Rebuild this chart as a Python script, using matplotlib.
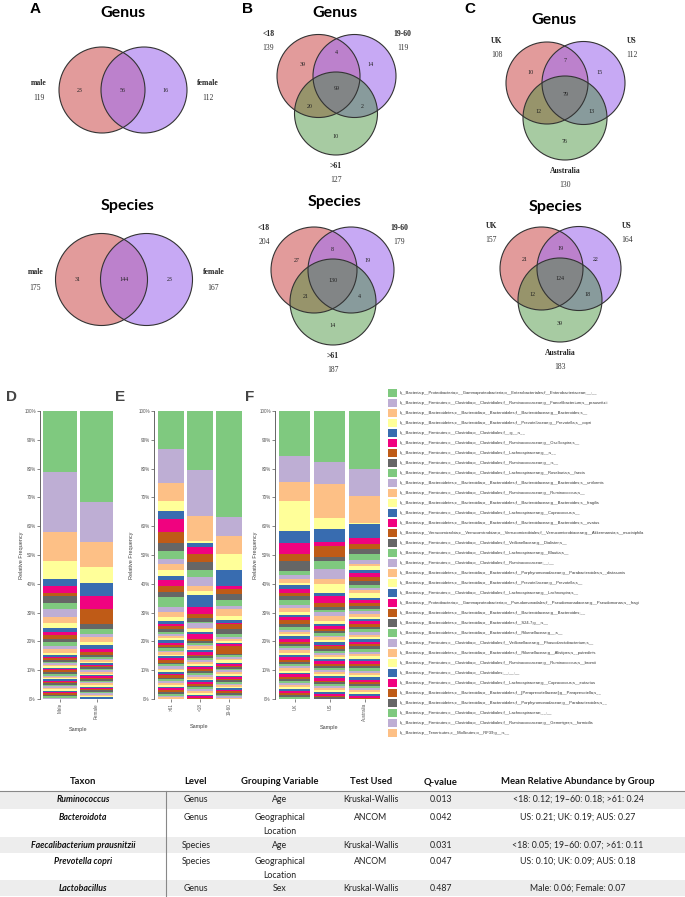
import matplotlib
matplotlib.use('Agg')
import matplotlib.pyplot as plt
from matplotlib.patches import Circle, Rectangle
import numpy as np

W, H = 685, 897

# ---------------- Venn data ----------------
sex_names = ['male', 'female']
genus_sex_totals = [119, 112]
genus_sex_counts = [23, 56, 16]          # male only, shared, female only
species_sex_totals = [175, 167]
species_sex_counts = [31, 144, 23]

age_names = ['<18', '19-60', '>61']
# order: only1, only2, only3, 1&2, 1&3, 2&3, all
genus_age_totals = [139, 119, 127]
genus_age_counts = [39, 14, 10, 4, 20, 2, 99]
species_age_totals = [204, 179, 187]
species_age_counts = [27, 19, 14, 8, 21, 4, 130]

country_names = ['UK', 'US', 'Australia']
genus_country_totals = [108, 112, 130]
genus_country_counts = [10, 15, 76, 7, 12, 13, 79]
species_country_totals = [157, 164, 183]
species_country_counts = [21, 22, 39, 19, 12, 18, 124]

# ---------------- stacked bar data (% from top segment down) ----------------
sex_samples = ['Male', 'Female']
sex_stacks = [
    [21.1, 21.0, 9.8, 6.3, 2.5, 2.5, 0.8, 2.6, 2.0, 2.9, 2.2, 1.5, 1.5, 0.9, 1.6, 0.9, 1.3, 1.3, 1.1, 0.9,
     0.6, 0.5, 0.7, 0.4, 0.5, 0.8, 0.3, 0.6, 0.5, 0.4, 0.7, 0.5, 0.6, 0.3, 0.5, 0.4, 0.6, 0.5, 0.4, 0.7,
     0.3, 0.5, 0.4, 0.6, 0.5, 0.4, 0.5, 0.6, 0.4, 0.5],
    [31.5, 13.8, 8.7, 5.4, 4.8, 4.4, 5.2, 1.7, 1.8, 1.1, 1.4, 1.2, 1.3, 1.1, 0.9, 0.7, 0.7,
     0.5, 0.6, 0.4, 0.7, 0.5, 0.3, 0.6, 0.5, 0.4, 0.8, 0.5, 0.4, 0.6, 0.3, 0.5, 0.6, 0.4, 0.5, 0.7, 0.4,
     0.5, 0.3, 0.6, 0.4, 0.5, 0.5, 0.4, 0.6],
]

age_samples = ['>61', '<18', '19-60']
age_stacks = [
    [13.3, 11.7, 6.2, 3.5, 2.6, 4.4, 3.9, 2.8, 2.9, 1.7, 1.9, 2.2, 1.2, 2.1, 2.3, 1.4, 3.5, 1.9, 1.6, 1.6,
     0.9, 0.8, 0.9, 0.9,
     0.7, 0.9, 0.6, 0.8, 1.0, 0.5, 0.7, 0.6, 0.9, 0.5, 0.8, 0.6, 0.7, 0.5, 0.9, 0.6, 0.7, 0.8, 0.5, 0.6,
     0.7, 0.5, 0.8, 0.6, 0.7, 0.5, 0.6, 0.8, 0.5, 0.7, 0.6, 0.5, 0.7, 0.6, 0.6],
    [20.1, 15.8, 8.7, 0.6, 1.5, 2.2, 2.7, 2.9, 2.3, 3.1, 1.8, 1.5, 3.9, 2.3, 1.6, 1.2, 0.6, 1.4, 0.6, 0.8,
     0.9, 1.6, 0.8, 0.6, 0.6,
     0.6, 0.8, 0.5, 0.7, 0.9, 0.5, 0.6, 0.7, 0.5, 0.8, 0.6, 0.5, 0.7, 0.6, 0.8, 0.5, 0.6, 0.7, 0.5, 0.6,
     0.8, 0.5, 0.6, 0.7, 0.5, 0.6, 0.7, 0.6, 0.5, 0.4],
    [36.7, 6.4, 6.4, 5.4, 5.5, 1.2, 1.7, 2.0, 2.1, 1.2, 2.3, 1.5, 0.8, 0.6, 1.7, 1.7, 0.9, 0.7, 0.6, 0.8,
     0.5, 0.5, 2.8,
     0.5, 0.7, 0.6, 0.4, 0.8, 0.5, 0.6, 0.5, 0.7, 0.4, 0.6, 0.5, 0.8, 0.5, 0.6, 0.4, 0.7, 0.5, 0.6, 0.5,
     0.4, 0.6, 0.5, 0.7, 0.5, 0.6, 0.5, 0.4],
]

country_samples = ['UK', 'US', 'Australia']
country_stacks = [
    [15.6, 8.9, 6.5, 10.2, 4.1, 4.0, 2.5, 3.2, 1.4, 1.5, 1.2, 0.9, 1.4, 1.2, 1.2, 1.4, 1.5, 1.2, 1.2, 1.2,
     0.8, 0.9, 1.5,
     0.8, 1.0, 0.7, 0.9, 0.6, 1.1, 0.8, 0.7, 0.9, 0.6, 0.8, 1.0, 0.7, 0.6, 0.9, 0.8, 0.7, 0.6, 0.8, 0.9,
     0.7, 0.6, 0.8, 0.7, 0.9, 0.6, 0.7, 0.8, 0.6, 0.7, 0.8, 0.6, 0.7, 0.6],
    [17.8, 7.5, 11.8, 3.8, 4.4, 1.5, 3.6, 1.5, 2.8, 3.3, 1.8, 3.3, 1.1, 2.1, 1.4, 1.2, 0.7, 1.4, 1.8, 0.8,
     0.9, 0.8, 0.9,
     0.7, 0.9, 0.6, 0.8, 0.7, 1.0, 0.6, 0.8, 0.7, 0.9, 0.6, 0.7, 0.8, 0.6, 0.9, 0.7, 0.6, 0.8, 0.7, 0.6,
     0.9, 0.7, 0.8, 0.6, 0.7, 0.6, 0.8, 0.7, 0.6, 0.7, 0.6, 0.5, 0.6],
    [19.8, 9.5, 9.0, 0.3, 5.1, 1.8, 2.0, 1.5, 2.0, 1.4, 0.9, 1.2, 1.2, 1.2, 1.4, 1.5, 0.9, 0.8, 0.9, 1.7,
     0.9,
     1.0, 0.8, 1.2, 0.7, 0.9, 1.1, 0.8, 0.6, 1.0, 0.9, 0.7, 1.2, 0.8, 0.9, 0.7, 1.0, 0.8, 0.6, 0.9, 1.1,
     0.7, 0.8, 0.9, 0.7, 1.0, 0.8, 0.6, 0.9, 0.7, 0.8, 0.7, 0.9, 0.6, 0.8, 0.7, 0.6, 0.8, 0.7, 0.6, 0.7,
     0.6, 0.5],
]

FIRM = 'k__Bacteria;p__Firmicutes;c__Clostridia;o__Clostridiales;'
BACT = 'k__Bacteria;p__Bacteroidetes;c__Bacteroidia;o__Bacteroidales;'
legend_taxa = [
    'k__Bacteria;p__Proteobacteria;c__Gammaproteobacteria;o__Enterobacteriales;f__Enterobacteriaceae;__;__',
    FIRM + 'f__Ruminococcaceae;g__Faecalibacterium;s__prausnitzii',
    BACT + 'f__Bacteroidaceae;g__Bacteroides;s__',
    BACT + 'f__Prevotellaceae;g__Prevotella;s__copri',
    FIRM + 'f__;g__;s__',
    FIRM + 'f__Ruminococcaceae;g__Oscillospira;s__',
    FIRM + 'f__Lachnospiraceae;g__;s__',
    FIRM + 'f__Ruminococcaceae;g__;s__',
    FIRM + 'f__Lachnospiraceae;g__Roseburia;s__faecis',
    BACT + 'f__Bacteroidaceae;g__Bacteroides;s__uniformis',
    FIRM + 'f__Ruminococcaceae;g__Ruminococcus;s__',
    BACT + 'f__Bacteroidaceae;g__Bacteroides;s__fragilis',
    FIRM + 'f__Lachnospiraceae;g__Coprococcus;s__',
    BACT + 'f__Bacteroidaceae;g__Bacteroides;s__ovatus',
    'k__Bacteria;p__Verrucomicrobia;c__Verrucomicrobiae;o__Verrucomicrobiales;f__Verrucomicrobiaceae;g__Akkermansia;s__muciniphila',
    FIRM + 'f__Veillonellaceae;g__Dialister;s__',
    FIRM + 'f__Lachnospiraceae;g__Blautia;s__',
    FIRM + 'f__Ruminococcaceae;__;__',
    BACT + 'f__Porphyromonadaceae;g__Parabacteroides;s__distasonis',
    BACT + 'f__Prevotellaceae;g__Prevotella;s__',
    FIRM + 'f__Lachnospiraceae;g__Lachnospira;s__',
    'k__Bacteria;p__Proteobacteria;c__Gammaproteobacteria;o__Pseudomonadales;f__Pseudomonadaceae;g__Pseudomonas;s__fragi',
    BACT + 'f__Bacteroidaceae;g__Bacteroides;__',
    BACT + 'f__S24-7;g__;s__',
    BACT + 'f__Rikenellaceae;g__;s__',
    FIRM + 'f__Veillonellaceae;g__Phascolarctobacterium;s__',
    BACT + 'f__Rikenellaceae;g__Alistipes;s__putredinis',
    FIRM + 'f__Ruminococcaceae;g__Ruminococcus;s__bromii',
    FIRM + '__;__;__',
    FIRM + 'f__Lachnospiraceae;g__Coprococcus;s__eutactus',
    BACT + 'f__[Paraprevotellaceae];g__Paraprevotella;s__',
    BACT + 'f__Porphyromonadaceae;g__Parabacteroides;s__',
    FIRM + 'f__Lachnospiraceae;__;__',
    FIRM + 'f__Ruminococcaceae;g__Gemmiger;s__formicilis',
    'k__Bacteria;p__Tenericutes;c__Mollicutes;o__RF39;g__;s__',
]

# ---------------- table data ----------------
table_cols = ['Taxon', 'Level', 'Grouping Variable', 'Test Used', 'Q-value',
              'Mean Relative Abundance by Group']
taxa = ['Ruminococcus', 'Bacteroidota', 'Faecalibacterium prausnitzii', 'Prevotella copri', 'Lactobacillus']
levels = ['Genus', 'Genus', 'Species', 'Species', 'Genus']
grouping = ['Age', 'Geographical\nLocation', 'Age', 'Geographical\nLocation', 'Sex']
tests = ['Kruskal-Wallis', 'ANCOM', 'Kruskal-Wallis', 'ANCOM', 'Kruskal-Wallis']
qvalues = [0.013, 0.042, 0.031, 0.047, 0.487]
abundance = ['<18: 0.12; 19\u201360: 0.18; >61: 0.24', 'US: 0.21; UK: 0.19; AUS: 0.27',
             '<18: 0.05; 19\u201360: 0.07; >61: 0.11', 'US: 0.10; UK: 0.09; AUS: 0.18',
             'Male: 0.06; Female: 0.07']

ACCENT = ['#7fc97f', '#beaed4', '#fdc086', '#ffff99', '#386cb0', '#f0027f', '#bf5b17', '#666666']
VENN_FILL = [('#cf5858', 0.6), ('#a371ee', 0.6), ('#3c8c32', 0.45)]

fig = plt.figure(figsize=(W / 100, H / 100), dpi=100)
canvas = fig.add_axes([0, 0, 1, 1])
canvas.set_xlim(0, W)
canvas.set_ylim(H, 0)
canvas.axis('off')

name_style = dict(fontsize=5.5, family='Liberation Serif', fontweight='bold', ha='center', va='center', color='#222')
tot_style = dict(fontsize=5.5, family='Liberation Serif', ha='center', va='center', color='#333')
num_style = dict(fontsize=4.3, family='Liberation Serif', ha='center', va='center', color='#222')
title_style = dict(fontsize=11.5, family='Lato', fontweight='bold', ha='center', va='center', color='black')


def draw_circles(circles):
    for (cx, cy, r), (col, a) in zip(circles, VENN_FILL):
        canvas.add_patch(Circle((cx, cy), r, facecolor=col, alpha=a, lw=0))
    for cx, cy, r in circles:
        canvas.add_patch(Circle((cx, cy), r, fill=False, ec='#333333', lw=0.8))


def venn2(circles, names, totals, counts):
    draw_circles(circles)
    (x1, y, r), (x2, _, r2) = circles
    d = x2 - x1
    for xx, n in zip([x1 - 0.52 * d, (x1 + x2) / 2, x2 + 0.52 * d], counts):
        canvas.text(xx, y, str(n), **num_style)
    for xx, name, tot in zip([x1 - r - 20, x2 + r2 + 21], names, totals):
        canvas.text(xx, y - 7, name, **name_style)
        canvas.text(xx, y + 8, str(tot), **tot_style)


def venn3(circles, names, totals, counts):
    draw_circles(circles)
    c = np.array([[cx, cy] for cx, cy, _ in circles])
    g = c.mean(axis=0)
    r3 = circles[2][2]
    pos = [c[0] + 0.9 * (c[0] - g), c[1] + 0.9 * (c[1] - g), c[2] + np.array([0, 0.55 * r3])]
    for i, j in [(0, 1), (0, 2), (1, 2)]:
        m = (c[i] + c[j]) / 2
        pos.append(m + 1.9 * (m - g))
    pos.append(g)
    for p, n in zip(pos, counts):
        canvas.text(p[0], p[1], str(n), **num_style)
    label_pos = [(c[0][0] - 50, c[0][1] - 42), (c[1][0] + 48, c[1][1] - 42), (c[2][0], c[2][1] + r3 + 11)]
    for (lx, ly), name, tot in zip(label_pos, names, totals):
        canvas.text(lx, ly, name, **name_style)
        canvas.text(lx, ly + 14, str(tot), **tot_style)


# panel letters and titles
for lab, x, y in [('A', 35, 9), ('B', 248, 9), ('C', 470, 9)]:
    canvas.text(x, y, lab, fontsize=11, family='Liberation Sans', fontweight='bold', ha='center', va='center')
for lab, x, y in [('D', 12, 397), ('E', 120, 397), ('F', 250, 397)]:
    canvas.text(x, y, lab, fontsize=11, family='Liberation Sans', fontweight='bold', ha='center', va='center',
                color='#444')
for txt, x, y in [('Genus', 123, 13), ('Genus', 335, 13), ('Genus', 554, 20),
                  ('Species', 127, 206), ('Species', 334, 202), ('Species', 555, 207)]:
    canvas.text(x, y, txt, **title_style)

venn2([(102, 90, 43), (144, 90, 43)], sex_names, genus_sex_totals, genus_sex_counts)
venn2([(101.5, 279.5, 46), (146.5, 279.5, 46)], sex_names, species_sex_totals, species_sex_counts)
venn3([(318.5, 76, 41.5), (354.5, 76, 41.5), (336, 113.5, 41.5)], age_names, genus_age_totals, genus_age_counts)
venn3([(314, 270, 43), (351, 270, 43), (333, 302, 43)], age_names, species_age_totals, species_age_counts)
venn3([(547, 83, 41), (583.5, 83, 41.5), (565, 118, 42)], country_names, genus_country_totals,
      genus_country_counts)
venn3([(541.5, 268.5, 41.5), (579, 268.5, 42), (560, 300, 42)], country_names, species_country_totals,
      species_country_counts)

# ---------------- stacked bar panels ----------------
Y_TOP, Y_BOT = 411, 699


def bar_panel(x0, x1, xlim, width, samples, stacks, ylab_off, xlab_y):
    ax = fig.add_axes([x0 / W, 1 - Y_BOT / H, (x1 - x0) / W, (Y_BOT - Y_TOP) / H])
    ax.set_facecolor('none')
    for i, vals in enumerate(stacks):
        v = np.array(vals, dtype=float)
        v = v / v.sum() * 100
        tops = 100 - np.concatenate([[0], np.cumsum(v)[:-1]])
        ax.bar(np.full(len(v), i), v, bottom=tops - v, width=width,
               color=[ACCENT[k % 8] for k in range(len(v))], linewidth=0)
    ax.set_xlim(*xlim)
    ax.set_ylim(0, 100)
    ax.set_yticks(np.arange(0, 101, 10))
    ax.set_yticklabels([f'{t}%' for t in range(0, 101, 10)])
    ax.set_xticks(range(len(samples)))
    ax.set_xticklabels(samples, rotation=90)
    for s in ['top', 'right', 'bottom']:
        ax.spines[s].set_visible(False)
    ax.spines['left'].set_color('#666')
    ax.spines['left'].set_linewidth(0.7)
    ax.tick_params(labelsize=3.3, colors='#555', length=2, width=0.5, pad=1)
    for t in ax.get_xticklabels() + ax.get_yticklabels():
        t.set_family('Liberation Sans')
    ax.set_ylabel('Relative Frequency', fontsize=4, color='#444', family='Liberation Sans')
    ax.yaxis.set_label_coords(-ylab_off / (x1 - x0), 0.5)
    ax.set_xlabel('Sample', fontsize=4, color='#444', family='Liberation Sans')
    ax.xaxis.set_label_coords(0.5, -(xlab_y - Y_BOT) / (Y_BOT - Y_TOP))
    return ax


bar_panel(40, 116.6, (-0.55, 1.55), 0.93, sex_samples, sex_stacks, 16, 727)
bar_panel(154, 245, (-0.59, 2.55), 0.9, age_samples, age_stacks, 20, 724)
bar_panel(275, 384, (-0.56, 2.55), 0.89, country_samples, country_stacks, 17, 725)

# legend
for k, name in enumerate(legend_taxa):
    y = 393 + 10 * k
    canvas.add_patch(Rectangle((388, y - 4), 9, 8, facecolor=ACCENT[k % 8], lw=0))
    canvas.text(400, y, name, fontsize=3, family='Liberation Sans', color='#333', va='center', ha='left')

# ---------------- table ----------------
col_x = [83, 196, 280, 371, 441, 578]
row_tops = [791, 809, 837, 853, 880]
row_bottom = 896
head_font = dict(family='Lato', fontsize=6.8, fontweight='bold', ha='center', va='center', color='#111')
body_font = dict(family='Lato', fontsize=6.3, ha='center', va='center', color='#222')

row_edges = row_tops + [row_bottom]
for r in range(len(taxa)):
    if r % 2 == 0:
        canvas.add_patch(Rectangle((0, row_edges[r]), W, row_edges[r + 1] - row_edges[r],
                                   facecolor='#ededed', lw=0))
for x, col in zip(col_x, table_cols):
    canvas.text(x, 782, col, **head_font)
canvas.plot([0, W], [791, 791], color='#888', lw=0.8)
canvas.plot([166, 166], [791, row_bottom], color='#888', lw=0.8)

for r in range(len(taxa)):
    y = row_tops[r] + 8.5
    canvas.text(col_x[0], y, taxa[r], family='Lato', fontsize=6.3, fontweight='bold', style='italic',
                ha='center', va='center', color='#111')
    cells = [levels[r], grouping[r], tests[r], f'{qvalues[r]:.3f}', abundance[r]]
    for x, cell in zip(col_x[1:], cells):
        for li, line in enumerate(cell.split('\n')):
            canvas.text(x, y + 13.5 * li, line, **body_font)

fig.savefig('out.png', dpi=100)
